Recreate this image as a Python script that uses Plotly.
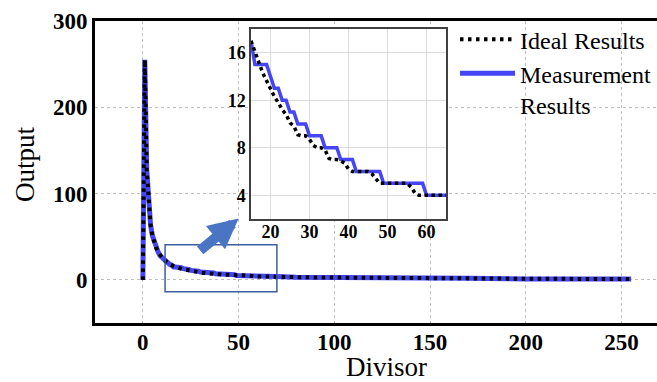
import plotly.graph_objects as go

# ---------------- data ----------------
divisor_head = [0, 1, 2, 3, 4, 5, 6, 7, 8, 9, 10, 11, 12, 13, 14]
ideal_head = [0, 255, 128, 85, 64, 51, 43, 37, 32, 28, 26, 23, 21, 20, 18]
measured_head = [0, 255, 128, 85, 64, 51, 43, 37, 32, 28, 26, 23, 21, 20, 18]

divisor_zoom = list(range(15, 66))
ideal_zoom = [17, 16, 15.2, 14.3, 13.6, 12.9, 12.3, 11.8, 11.2, 10.8,
              10.1, 9.8, 9.1, 9, 9, 8.7, 8.2, 8, 8, 7.8,
              7.1, 7, 7, 6.9, 6.7, 6.2, 6, 6, 6, 6,
              6, 5.8, 5.4, 5, 5, 5, 5, 5, 5, 5,
              5, 4.7, 4.2, 4, 4, 4, 4, 4, 4, 4, 4]
measured_zoom = [17, 15, 15, 15, 15, 14, 13, 13, 12, 12,
                 11, 11, 10, 10, 10, 9, 9, 9, 9, 8,
                 8, 8, 8, 7, 7, 7, 7, 6, 6, 6,
                 6, 6, 6, 6, 5, 5, 5, 5, 5, 5,
                 5, 5, 5, 5, 5, 4, 4, 4, 4, 4, 4]

divisor_tail = [70, 80, 90, 100, 120, 140, 170, 200, 230, 255]
ideal_tail = [3.7, 3.2, 2.8, 2.6, 2.1, 1.8, 1.5, 1.3, 1.1, 1]
measured_tail = [4, 3, 3, 3, 2, 2, 2, 1, 1, 1]

x_ticks = [0, 50, 100, 150, 200, 250]
y_ticks = [0, 100, 200, 300]
inset_x_ticks = [20, 30, 40, 50, 60]
inset_y_ticks = [4, 8, 12, 16]

# ---------------- styles ----------------
BLUE = "#4545f7"
SERIF = "Liberation Serif"

main_x = divisor_head + divisor_zoom + divisor_tail
ideal_main = ideal_head + ideal_zoom + ideal_tail
measured_main = measured_head + measured_zoom + measured_tail

fig = go.Figure()
fig.add_trace(go.Scatter(x=main_x, y=measured_main, mode="lines",
                         name="Measurement<br>Results", legendrank=2,
                         line=dict(color=BLUE, width=5)))
fig.add_trace(go.Scatter(x=main_x, y=ideal_main, mode="lines",
                         name="Ideal Results", legendrank=1,
                         line=dict(color="black", width=4, dash="3.5px,4.5px")))
fig.add_trace(go.Scatter(x=divisor_zoom, y=measured_zoom, mode="lines",
                         xaxis="x2", yaxis="y2", showlegend=False,
                         line=dict(color=BLUE, width=3.5)))
fig.add_trace(go.Scatter(x=divisor_zoom, y=ideal_zoom, mode="lines",
                         xaxis="x2", yaxis="y2", showlegend=False,
                         line=dict(color="black", width=3.5, dash="3.5px,3.5px")))

tick_font = dict(family=SERIF, size=23, color="black", weight="bold")
inset_font = dict(family=SERIF, size=18, color="black", weight="bold")

fig.update_layout(
    width=657, height=382,
    margin=dict(l=95, r=0, t=21, b=59),
    paper_bgcolor="white", plot_bgcolor="white",
    font=dict(family=SERIF, color="black"),
    xaxis=dict(domain=[0, 1], range=[-25, 268.5], tickvals=x_ticks,
               showgrid=True, gridcolor="#bfbfbf", griddash="dot", gridwidth=1,
               zeroline=False, showline=True, linecolor="black", linewidth=3,
               mirror=True, ticks="", tickfont=tick_font, ticklabelstandoff=-4),
    yaxis=dict(domain=[0, 1], range=[-50, 300], tickvals=y_ticks,
               showgrid=True, gridcolor="#bfbfbf", griddash="dot", gridwidth=1,
               zeroline=False, showline=True, linecolor="black", linewidth=3,
               mirror=False, ticks="", tickfont=tick_font, ticklabelstandoff=0),
    xaxis2=dict(domain=[0.2776, 0.6246], anchor="y2", range=[15, 65],
                tickvals=inset_x_ticks, showgrid=True, gridcolor="#dcdcdc",
                gridwidth=1, zeroline=False, showline=True, linecolor="#404040",
                linewidth=1.5, mirror=True, ticks="", tickfont=inset_font,
                ticklabelstandoff=-4),
    yaxis2=dict(domain=[0.3444, 0.9735], anchor="x2", range=[2, 18],
                tickvals=inset_y_ticks, showgrid=True, gridcolor="#dcdcdc",
                gridwidth=1, zeroline=False, showline=True, linecolor="#404040",
                linewidth=1.5, mirror=True, ticks="", tickfont=inset_font),
    legend=dict(x=0.6406, y=1.013, xanchor="left", yanchor="top",
                bgcolor="rgba(0,0,0,0)", itemwidth=55, valign="top",
                font=dict(family=SERIF, size=24, color="black")),
    showlegend=True,
)

# white background for the inset
fig.add_shape(type="rect", xref="x2", yref="y2", x0=15, x1=65, y0=2, y1=18,
              fillcolor="white", line=dict(width=0), layer="below")
# zoom region rectangle
fig.add_shape(type="rect", xref="x", yref="y", x0=11.6, x1=70, y0=-13.7, y1=40.8,
              line=dict(color="#3d5f9c", width=1.5), fillcolor="rgba(0,0,0,0)")
# arrow
fig.add_annotation(x=50, y=71, xref="x", yref="y", ax=-40, ay=33,
                   text="", showarrow=True, arrowhead=2, arrowsize=0.6,
                   arrowwidth=10, arrowcolor="#4a75c4", standoff=0)
# axis titles
fig.add_annotation(x=-0.1246, y=0.5265, xref="paper", yref="paper",
                   xanchor="center", yanchor="middle",
                   text="Output", textangle=-90, showarrow=False,
                   font=dict(family=SERIF, size=27, color="black"))
fig.add_annotation(x=0.5187, y=-0.1457, xref="paper", yref="paper",
                   xanchor="center", yanchor="middle",
                   text="Divisor", showarrow=False,
                   font=dict(family=SERIF, size=27, color="black"))

fig.write_html("out.html")
